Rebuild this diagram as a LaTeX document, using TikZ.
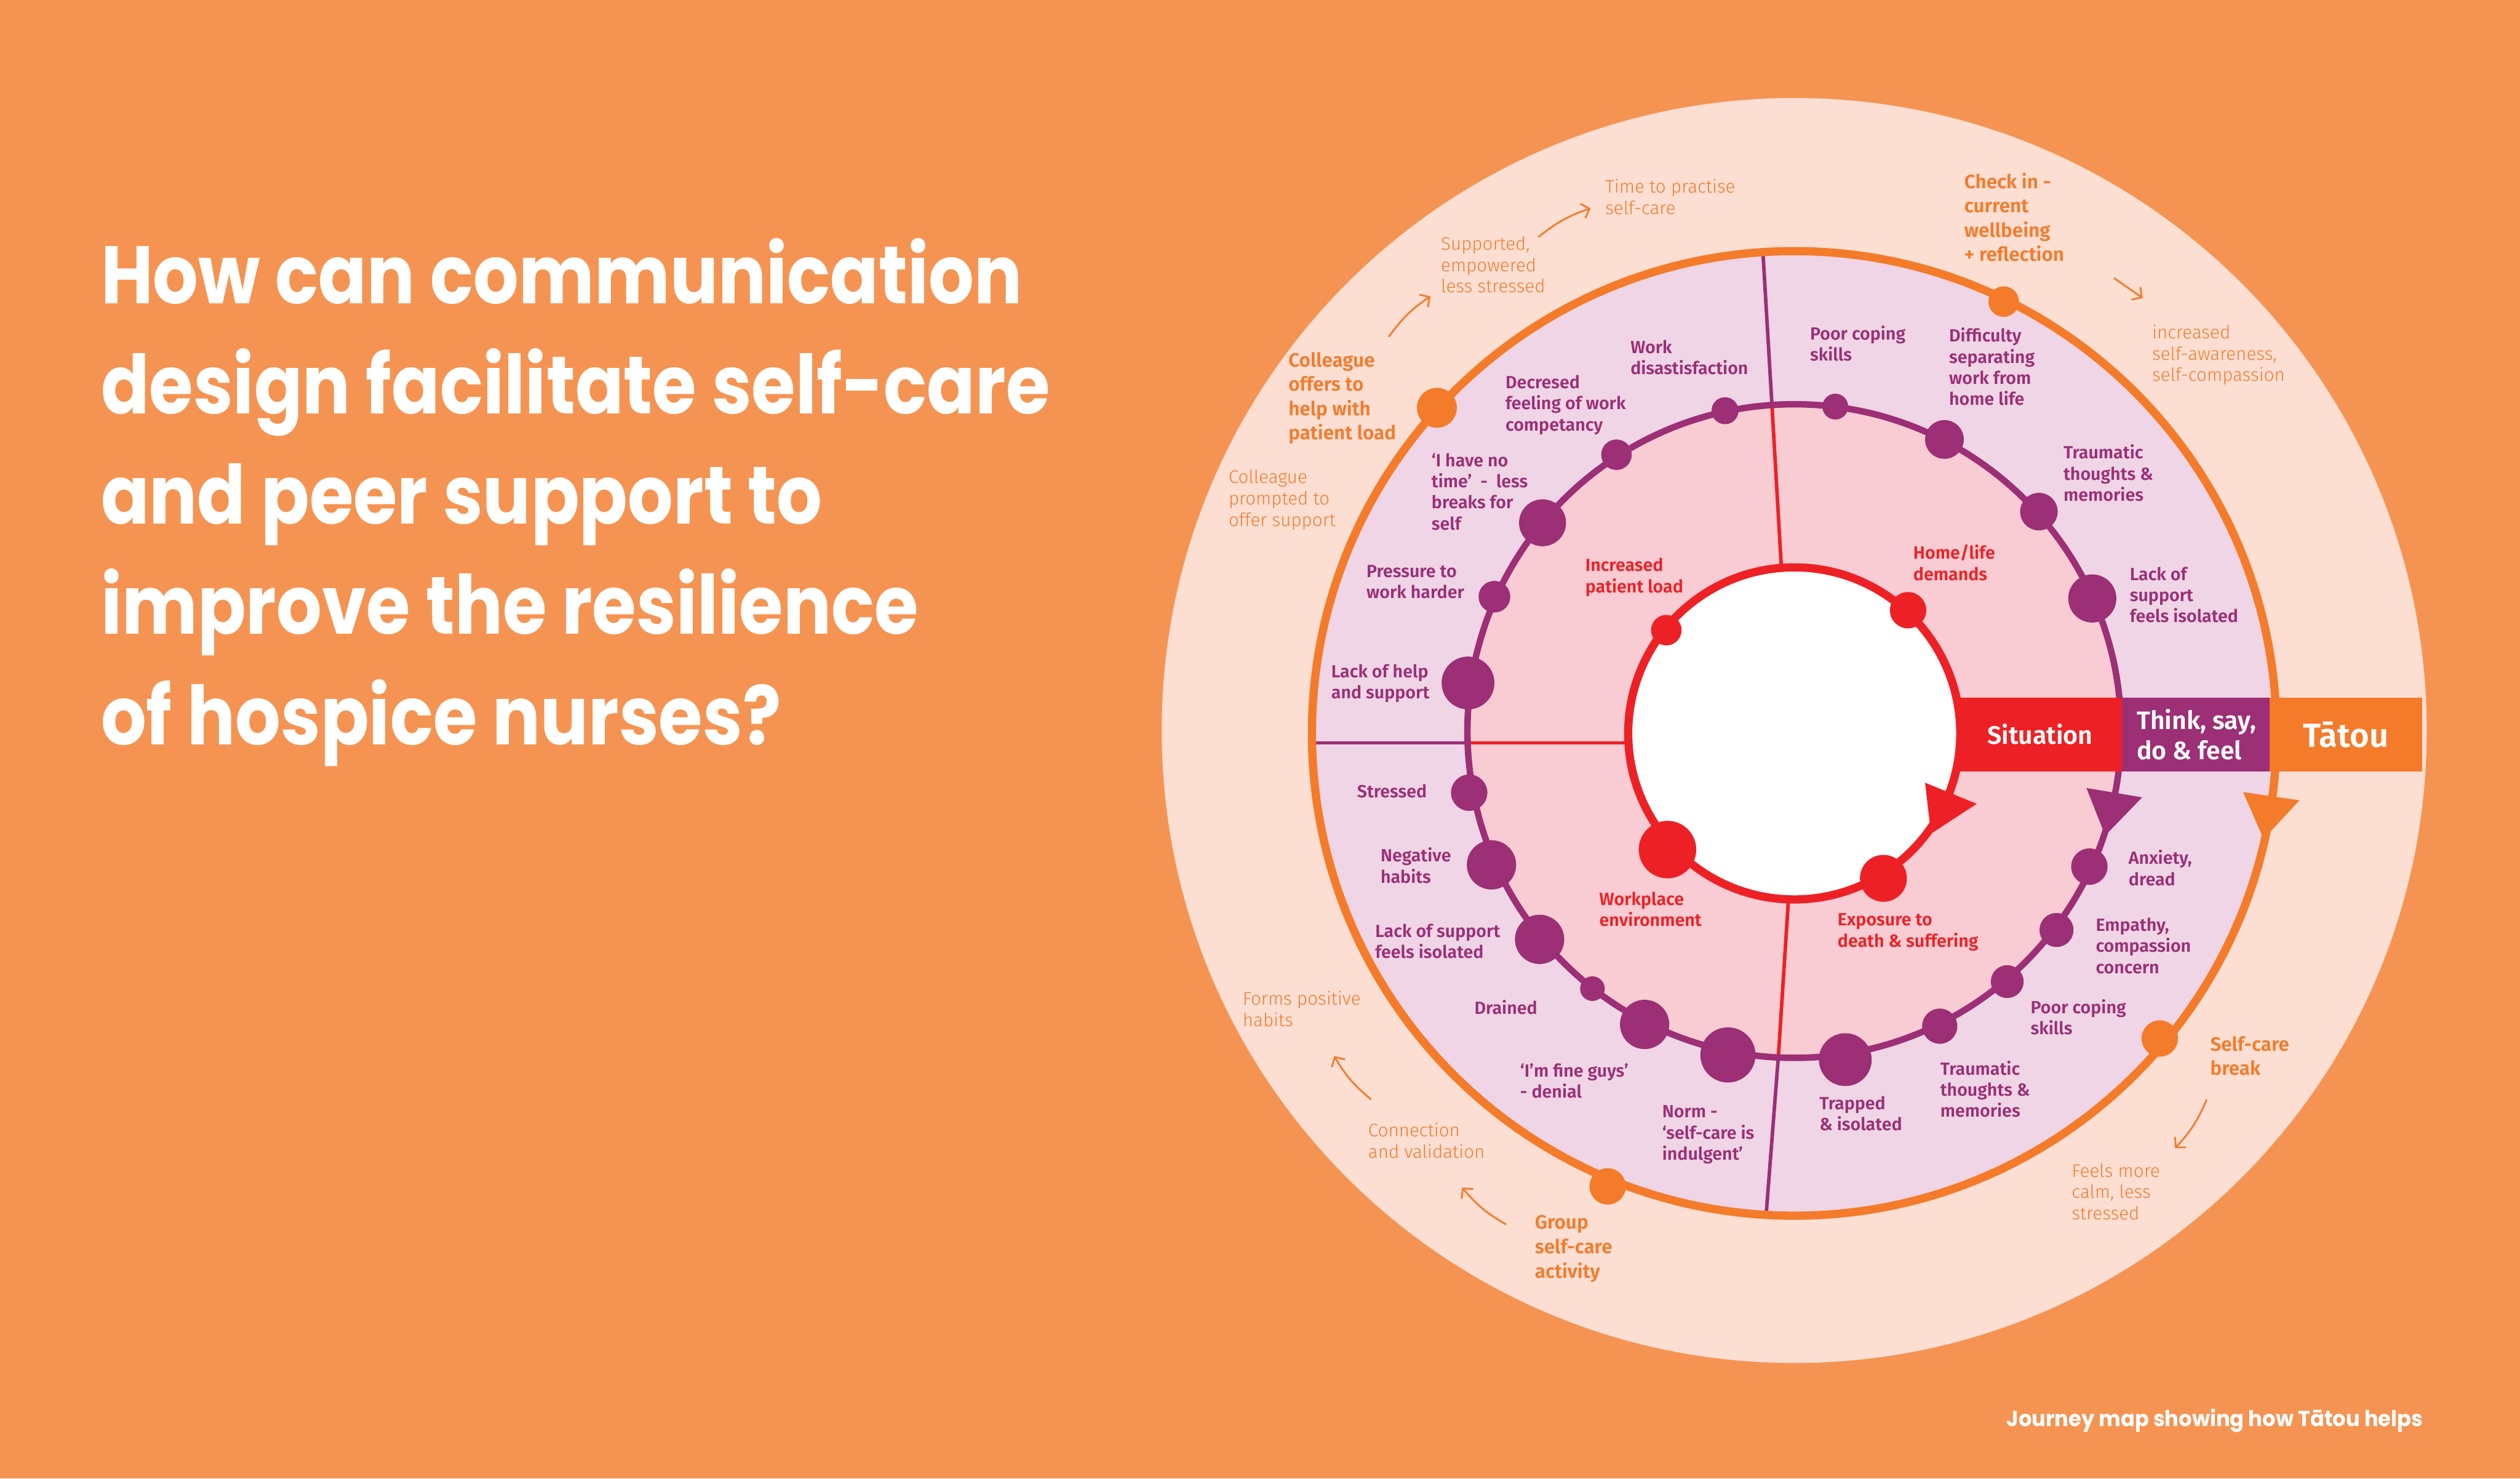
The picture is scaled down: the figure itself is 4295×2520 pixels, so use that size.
\documentclass[tikz,border=0pt]{standalone}
\usepackage{fontspec}
\setmainfont{Fira Sans}
\newfontfamily\titlefont{Poppins}[FakeStretch=0.875]
\newfontfamily\capfont{Poppins}[FakeStretch=0.955]
\newfontfamily\lightfont{Fira Sans Light}
\newfontfamily\semifont{Fira Sans SemiBold}
\usetikzlibrary{arrows.meta}
\definecolor{bgc}{HTML}{F59452}
\definecolor{peach}{HTML}{FCDED3}
\definecolor{lav}{HTML}{EFD5E6}
\definecolor{pinkc}{HTML}{F9CBD3}
\definecolor{redc}{HTML}{ED2125}
\definecolor{pur}{HTML}{9C2F76}
\definecolor{orng}{HTML}{F47B2A}
\newcommand\ml[1]{\begin{tabular}[t]{@{}l@{}}#1\end{tabular}}
\tikzset{
  every node/.style={inner sep=0pt, outer sep=0pt},
  lblp/.style={anchor=base west, text=pur, font={\semifont\fontsize{30}{36}\selectfont}},
  lblr/.style={anchor=base west, text=redc, font={\semifont\fontsize{30}{36}\selectfont}},
  lblo/.style={anchor=base west, text=orng, font={\semifont\fontsize{33}{41.5}\selectfont}},
  lblt/.style={anchor=base west, text=orng, font={\lightfont\fontsize{31}{36.5}\selectfont}},
  bandtxt/.style={text=white, font={\semifont\fontsize{43}{51}\selectfont}},
  ann/.style={draw=orng, line width=3pt, -{Straight Barb[length=12pt,width=26pt]}},
  pdot/.style={fill=pur},
  rdot/.style={fill=redc},
  odot/.style={fill=orng},
  divr/.style={draw=redc, line width=6pt},
  divp/.style={draw=pur, line width=6pt}
}
\begin{document}
\begin{tikzpicture}[x=1pt,y=-1pt]
\useasboundingbox (0,0) rectangle (4295,2520);
\fill[bgc] (0,0) rectangle (4295,2520);
\coordinate (C) at (3058,1250);
% regions
\fill[peach] (3058,1245) circle[radius=1078];
\fill[lav] (C) circle[radius=822];
\fill[pinkc] (3058,1246) circle[radius=557];
% dividers
\coordinate (t0) at (3036,966); \coordinate (t1) at (3020,690); \coordinate (t2) at (3005,436);
\coordinate (b0) at (3048,1535); \coordinate (b1) at (3031,1800); \coordinate (b2) at (3010,2072);
\coordinate (l0) at (2778,1266); \coordinate (l1) at (2500,1266); \coordinate (l2) at (2236,1266);
\draw[divr] (t0) -- (t1); \draw[divp] (t1) -- (t2);
\draw[divr] (b0) -- (b1); \draw[divp] (b1) -- (b2);
\draw[divr] (l0) -- (l1); \draw[divp] (l1) -- (l2);
% rings
\draw[pur, line width=11pt] (3058,1246) circle[radius=557];
\draw[orng, line width=14pt] (C) circle[radius=822];
% band
\fill[redc] (3300,1189) rectangle (3616,1315);
\fill[pur] (3616,1189) rectangle (3868,1315);
\fill[orng] (3868,1189) rectangle (4128,1315);
\node[bandtxt, anchor=base] (sit) at (3477,1268) {Situation};
\node[bandtxt, anchor=base west] (tsd) at (3642,1243) {\ml{Think, say,\\do \& feel}};
\node[text=white, font={\semifont\fontsize{57}{64}\selectfont}, anchor=base] (tat) at (3998,1273) {Tātou};
% inner circle
\fill[white] (C) circle[radius=283];
\draw[redc, line width=14pt] (C) circle[radius=283];
% arrowheads
\fill[redc] (3281,1334) -- (3369,1370) -- (3291,1421) -- cycle;
\fill[pur] (3556,1343) -- (3651,1359) -- (3588,1424) -- cycle;
\fill[orng] (3823,1350) -- (3919,1364) -- (3858,1430) -- cycle;
% purple dots
\foreach \x/\y/\r in {2940/700/23, 2755/775/26, 2629/891/40, 2547/1017/27, 2502/1164/45,
  2504/1351/31, 2542/1474/42, 2624/1601/42, 2714/1685/21, 2803/1746/42, 2945/1798/47,
  3145/1806/45, 3306/1749/30, 3421/1673/28, 3505/1585/29, 3561/1477/31, 3566/1020/41,
  3475/872/32, 3314/749/33, 3128/693/22}
  \fill[pdot] (\x,\y) circle[radius=\r];
% red dots
\foreach \x/\y/\r in {2840/1074/26, 3252/1040/31, 2842/1448/49, 3210/1497/40}
  \fill[rdot] (\x,\y) circle[radius=\r];
% orange dots
\foreach \x/\y/\r in {2449/695/34, 3415/514/26, 3681/1770/31, 2740/2022/31}
  \fill[odot] (\x,\y) circle[radius=\r];
% purple labels
\node[lblp] (wd) at (2779,602) {\ml{Work\\disastisfaction}};
\node[lblp] (dec) at (2566,662) {\ml{Decresed\\feeling of work\\competancy}};
\node[lblp] (nt) at (2440,795) {\ml{‘I have no\\time’~~-~~less\\breaks for\\self}};
\node[lblp] (pw) at (2329,984) {\ml{Pressure to\\work harder}};
\node[lblp] (lh) at (2269,1155) {\ml{Lack of help\\and support}};
\node[lblp] (st) at (2313,1359) {Stressed};
\node[lblp] (nh) at (2353,1469) {\ml{Negative\\habits}};
\node[lblp] (ls) at (2344,1597) {\ml{Lack of support\\feels isolated}};
\node[lblp] (dr) at (2513,1729) {Drained};
\node[lblp] (fg) at (2591,1835) {\ml{‘I’m fine guys’\\- denial}};
\node[lblp] (nm) at (2833,1905) {\ml{Norm -\\‘self-care is\\indulgent’}};
\node[lblp] (tr) at (3101,1891) {\ml{Trapped\\\& isolated}};
\node[lblp] (tt2) at (3307,1832) {\ml{Traumatic\\thoughts \&\\memories}};
\node[lblp] (pc2) at (3461,1727) {\ml{Poor coping\\skills}};
\node[lblp] (em) at (3572,1587) {\ml{Empathy,\\compassion\\concern}};
\node[lblp] (an) at (3628,1473) {\ml{Anxiety,\\dread}};
\node[lblp] (ls2) at (3630,989) {\ml{Lack of\\support\\feels isolated}};
\node[lblp] (tt1) at (3517,782) {\ml{Traumatic\\thoughts \&\\memories}};
\node[lblp] (df) at (3322,583) {\ml{Difficulty\\separating\\work from\\home life}};
\node[lblp] (pc1) at (3085,579) {\ml{Poor coping\\skills}};
% red labels
\node[lblr] (ip) at (2702,974) {\ml{Increased\\patient load}};
\node[lblr] (hl) at (3261,953) {\ml{Home/life\\demands}};
\node[lblr] (we) at (2726,1543) {\ml{Workplace\\environment}};
\node[lblr] (ex) at (3132,1578) {\ml{Exposure to\\death \& suffering}};
% orange bold labels
\node[lblo] (co) at (2196,625) {\ml{Colleague\\offers to\\help with\\patient load}};
\node[lblo] (ci) at (3348,321) {\ml{Check in -\\current\\wellbeing\\+ reflection}};
\node[lblo] (sb) at (3767,1791) {\ml{Self-care\\break}};
\node[lblo] (gs) at (2616,2095) {\ml{Group\\self-care\\activity}};
% light labels
\node[lblt] (tp) at (2736,329) {\ml{Time to practise\\self-care}};
\node[lblt] (sp) at (2456,426) {\ml{Supported,\\empowered\\less stressed}};
\node[lblt] (cp) at (2094,824) {\ml{Colleague\\prompted to\\offer support}};
\node[lblt] (ia) at (3668,577) {\ml{increased\\self-awareness,\\self-compassion}};
\node[lblt] (fp) at (2118,1713) {\ml{Forms positive\\habits}};
\node[lblt] (cv) at (2332,1937) {\ml{Connection\\and validation}};
\node[lblt] (fm) at (3531,2006) {\ml{Feels more\\calm, less\\stressed}};
% annotation arrows
\coordinate (a1s) at (2367,574); \coordinate (a1e) at (2438,505);
\coordinate (a2s) at (2622,404); \coordinate (a2e) at (2711,355);
\coordinate (a3s) at (3603,474); \coordinate (a3e) at (3652,508);
\coordinate (a4s) at (3761,1874); \coordinate (a4e) at (3707,1957);
\coordinate (a5s) at (2567,2087); \coordinate (a5e) at (2492,2024);
\coordinate (a6s) at (2337,1874); \coordinate (a6e) at (2274,1800);
\draw[ann] (a1s) to[bend left=10] (a1e);
\draw[ann] (a2s) to[bend left=10] (a2e);
\draw[ann] (a3s) to (a3e);
\draw[ann] (a4s) to[bend left=10] (a4e);
\draw[ann] (a5s) to[bend left=10] (a5e);
\draw[ann] (a6s) to[bend left=10] (a6e);
% title and caption
\node[anchor=base west, text=white, font={\titlefont\bfseries\fontsize{139}{188}\selectfont}] (title) at (172,517)
  {\ml{How can communication\\design facilitate self-care\\and peer support to\\improve the resilience\\of hospice nurses?}};
\node[anchor=base west, text=white, font={\capfont\bfseries\fontsize{37}{44}\selectfont}] (cap) at (3420,2431)
  {Journey map showing how Tātou helps};
\end{tikzpicture}
\end{document}
